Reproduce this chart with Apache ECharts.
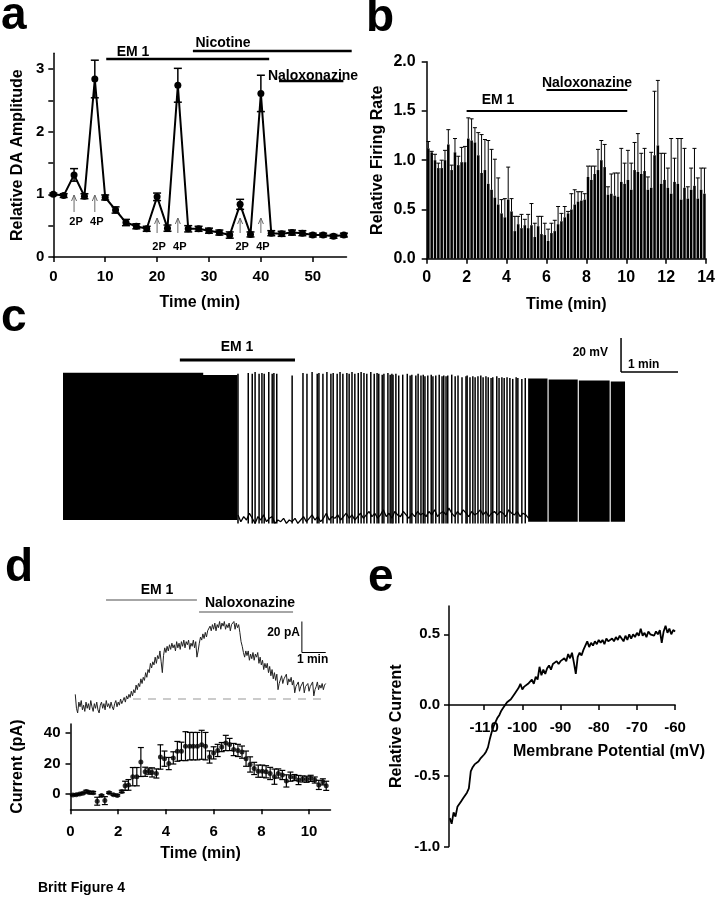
<!DOCTYPE html>
<html><head><meta charset="utf-8">
<script src="https://cdn.jsdelivr.net/npm/echarts@6/dist/echarts.min.js"></script>
<style>html,body{margin:0;padding:0;background:#fff}#c{width:718px;height:899px}</style>
</head><body><div id="c"></div>
<script>
// ---------------- DATA ----------------
// Panel a
const aTime=[0,2,4,6,8,10,12,14,16,18,20,22,24,26,28,30,32,34,36,38,40,42,44,46,48,50,52,54,56];
const aAmp=[1.00,0.98,1.31,0.97,2.84,0.95,0.75,0.55,0.49,0.45,0.96,0.46,2.74,0.45,0.45,0.42,0.39,0.35,0.84,0.36,2.61,0.38,0.37,0.39,0.38,0.35,0.35,0.33,0.35];
const aErr=[0.02,0.03,0.10,0.04,0.30,0.04,0.05,0.05,0.04,0.04,0.06,0.05,0.27,0.05,0.04,0.04,0.04,0.05,0.08,0.04,0.29,0.04,0.04,0.04,0.04,0.03,0.03,0.03,0.03];
const aStimTime=[4,8,20,24,36,40];
const aStimLabel=['2P','4P','2P','4P','2P','4P'];
const aDrugName=['EM 1','Nicotine','Naloxonazine'];
const aDrugStart=[10.2,26.9,43.5];
const aDrugEnd=[41.6,57.5,55.9];
const aXTicks=[0,10,20,30,40,50];
const aYMinor=[0,0.5,1,1.5,2,2.5,3];
const aYTicks=[0,1,2,3];

// Panel b (10-s bins)
const bBinWidth=1/6;
const bRate=[1.12,1.08,1.00,0.92,0.92,1.00,1.16,0.90,1.08,0.95,
 0.98,0.98,1.22,1.20,1.18,1.05,0.87,0.90,0.76,0.70,
 0.62,0.55,0.46,0.42,0.60,0.48,0.28,0.35,0.31,0.34,
 0.31,0.34,0.22,0.33,0.25,0.24,0.18,0.26,0.28,0.35,
 0.38,0.42,0.46,0.50,0.55,0.58,0.59,0.60,0.83,0.80,
 0.86,0.90,1.00,0.93,0.65,0.66,0.64,0.63,0.78,0.76,
 0.80,0.70,0.90,0.88,0.86,0.89,0.70,0.72,1.05,1.15,
 0.76,0.80,0.72,0.66,0.78,0.76,0.60,0.72,0.61,0.70,
 0.74,0.61,0.70,0.66];
const bErrTop=[1.19,1.09,1.06,0.97,1.00,1.10,1.31,0.95,1.22,1.04,
 1.13,1.14,1.43,1.42,1.33,1.28,1.26,1.21,1.20,1.11,
 1.01,0.82,0.60,0.61,0.93,0.61,0.43,0.43,0.45,0.40,
 0.45,0.56,0.36,0.43,0.43,0.36,0.30,0.36,0.39,0.53,
 0.46,0.53,0.48,0.66,0.70,0.68,0.68,0.66,0.94,0.94,
 0.94,1.11,1.20,1.16,0.73,0.86,0.87,0.87,1.12,0.97,
 1.10,0.97,1.18,1.27,1.07,1.12,0.83,1.08,1.70,1.81,
 1.07,1.07,0.92,1.22,1.02,1.22,1.22,1.12,0.73,0.92,
 1.12,0.82,0.92,0.92];
const bDrugName=['EM 1','Naloxonazine'];
const bDrugStart=[2,6];
const bDrugEnd=[10.05,10.05];
const bXTicks=[0,2,4,6,8,10,12,14];
const bYTicks=[0,0.5,1,1.5,2];

// Panel c (membrane potential, mV vs min)
const cBlockStart=[0,2.44,8.16,8.52,9.05,9.61];
const cBlockEnd=[2.46,3.06,8.50,9.03,9.59,9.86];
const cBlockTop=[21.6,20.3,18.2,17.6,17.0,16.4];
const cBlockBottom=[-65,-65,-66,-66,-66,-66];
const cSpikeTime=[3.07,3.25,3.32,3.37,3.44,3.49,3.53,3.61,3.67,3.70,
 3.75,4.02,4.21,4.28,4.37,4.46,4.49,4.56,4.63,4.70,
 4.74,4.81,4.86,4.91,4.98,5.02,5.07,5.12,5.18,5.23,
 5.28,5.33,5.40,5.46,5.51,5.54,5.60,5.63,5.70,5.74,
 5.77,5.79,5.84,5.89,5.96,6.04,6.09,6.12,6.19,6.23,
 6.28,6.32,6.35,6.40,6.46,6.49,6.54,6.60,6.65,6.68,
 6.72,6.75,6.82,6.88,6.93,7.00,7.07,7.09,7.14,7.19,
 7.23,7.28,7.33,7.37,7.42,7.46,7.51,7.54,7.61,7.65,
 7.70,7.74,7.79,7.84,7.89,7.95,7.98,8.05,8.11];
const cSpikePeak=[21,21.5,21,22,21,21.5,21,22,21,21.5,
 21,20,21.5,21,22,21,21.5,21,22,21,
 21.5,21,22,21,21.5,21,22,21,21.5,22,
 21.5,21,22,21,21.5,21,20.5,21,21.5,20.5,
 21,20.5,21,20,20.5,21,20,20.5,20,21,
 20,20.5,19.5,20,20.5,19.5,20,20.5,19.5,20,
 19.5,20,20.5,19.5,20,19,19.5,20,19,19.5,
 19,19.5,20,19,19.5,19,18.5,19,19.5,18.5,
 19,18.5,19,18.5,18,19,18.5,18,18.5];
const cSpikeTrough=-67;
const cBaseStart=3.07, cBaseStep=0.05;
const cBase=[-62,-66,-63,-65,-61,-64,-67,-63,-65,-62,-66,-64,-63,-67,-65,-66,-64,-67,-65,
 -66,-64,-67,-65,-63,-66,-64,-62,-65,-63,-66,-64,-61,-65,-63,-64,-62,-65,-63,-61,-64,-62,-65,-63,
 -61,-64,-62,-60,-63,-61,-64,-62,-59,-63,-61,-64,-60,-62,-63,-60,-62,-64,-61,-63,-60,-62,-61,-63,
 -60,-62,-59,-63,-61,-60,-62,-58,-61,-63,-60,-62,-59,-61,-63,-60,-62,-61,-59,-62,-60,-63,-61,-60,
 -62,-60,-61,-63,-59,-61,-62,-60,-63,-61,-62,-64];
const cDrugName=['EM 1'];
const cDrugStart=[2.05];
const cDrugEnd=[4.07];
const cScaleMV=20, cScaleMin=1;

// Panel d
const dTraceStart=0.2, dTraceStep=0.05;
const dTrace=[3,-6,-9,-2,-5,-1,-7,-4,-8,-2,
 -6,-3,-7,-1,-5,-8,-3,-6,-2,-7,
 -9,-4,-2,-6,-3,-7,-1,-5,-3,-6,
 -2,-5,-7,-3,-1,-5,-2,-4,0,-3,
 -1,1,-2,2,0,3,1,5,2,6,
 4,9,6,10,8,13,10,14,12,17,
 14,19,17,23,20,24,22,27,23,28,
 26,31,24,17,28,33,30,34,31,35,
 32,36,33,35,31,37,33,36,32,37,
 34,38,33,37,35,38,32,36,34,38,
 33,37,27,31,36,40,38,42,39,43,
 40,44,43,47,44,48,45,49,44,48,
 46,50,45,49,47,50,45,48,46,49,
 44,48,47,50,45,49,46,48,43,37,
 34,30,27,31,28,31,25,29,26,30,
 25,29,27,30,23,27,22,25,19,23,
 20,23,17,21,15,19,13,17,12,16,
 6,10,11,15,10,13,12,16,9,13,
 11,14,9,12,4,8,7,11,5,8,
 8,11,4,8,7,10,5,8,8,11,
 2,6,8,11,6,9,7,10,6,9,
 10];
const dBaselineSpan=[2.62,10.7];
const dTime=[0.10,0.24,0.38,0.52,0.66,0.80,0.95,1.12,1.30,1.44,1.62,1.80,1.96,2.15,2.29,2.43,2.61,2.78,2.95,3.13,3.28,3.42,3.60,3.77,3.94,4.12,4.31,4.48,4.65,4.82,5.00,5.15,5.32,5.50,5.66,5.83,6.00,6.17,6.34,6.51,6.67,6.84,7.02,7.19,7.36,7.53,7.70,7.87,8.04,8.20,8.37,8.55,8.71,8.88,9.05,9.22,9.39,9.56,9.73,9.90,10.07,10.24,10.41,10.58,10.72];
const dCur=[-0.6,-0.4,0,0.6,1.7,1.0,0.9,-4.7,-1.0,-4.3,0.9,-0.4,-0.9,1.7,5.4,6.0,11.4,11.4,21.0,14.6,15.0,14.2,13.5,24.3,23.2,20.0,23.7,28.0,28.0,31.4,31.4,31.4,31.4,32.3,31.4,24.3,27.0,28.6,30.8,33.5,32.5,29.2,28.6,27.5,23.2,19.4,16.8,15.0,15.0,14.6,13.5,11.4,13.5,12.5,8.6,11.4,10.8,9.2,9.9,9.7,10.3,9.2,6.0,8.0,5.4];
const dErr=[0.5,0.5,0.5,0.5,0.8,0.8,0.8,2.6,0.5,2.6,0.5,0.5,0.5,0.8,3.0,3.5,6.0,6.0,9.5,3.0,2.0,3.0,3.0,8.0,5.0,4.0,4.0,6.5,6.0,9.5,9.0,9.0,9.0,9.5,9.0,4.0,4.0,4.0,3.0,5.0,4.0,4.0,4.0,4.0,5.0,5.0,4.0,4.0,4.0,4.0,4.0,5.0,3.0,3.0,4.0,3.0,2.0,3.0,2.0,2.0,2.0,2.0,3.0,2.0,3.0];
const dDrugName=['EM 1','Naloxonazine'];
const dDrugStart=[1.49,5.39];
const dDrugEnd=[5.3,9.33];
const dScalePA=20, dScaleMin=1;
const dXTicks=[0,2,4,6,8,10];
const dYTicks=[0,20,40];

// Panel e
const eVStart=-119, eVStep=0.5;
const eCur=[-0.80,-0.84,-0.76,-0.79,-0.72,-0.73,-0.68,-0.66,-0.64,-0.62,
 -0.59,-0.47,-0.44,-0.42,-0.41,-0.40,-0.38,-0.37,-0.35,-0.33,
 -0.30,-0.24,-0.19,-0.15,-0.12,-0.09,-0.07,-0.04,-0.02,0.00,
 0.02,0.01,0.04,0.05,0.08,0.09,0.12,0.15,0.11,0.13,
 0.12,0.15,0.14,0.18,0.15,0.20,0.18,0.27,0.21,0.25,
 0.22,0.26,0.28,0.25,0.29,0.28,0.31,0.29,0.31,0.30,
 0.33,0.31,0.36,0.33,0.37,0.30,0.22,0.34,0.37,0.35,
 0.39,0.38,0.45,0.41,0.44,0.42,0.45,0.43,0.46,0.44,
 0.46,0.43,0.47,0.45,0.44,0.47,0.45,0.48,0.46,0.49,
 0.47,0.45,0.49,0.46,0.50,0.47,0.50,0.48,0.51,0.49,
 0.54,0.49,0.51,0.48,0.52,0.50,0.51,0.49,0.52,0.50,
 0.53,0.44,0.52,0.56,0.51,0.54,0.50,0.53,0.52];
const eXTicks=[-110,-100,-90,-80,-70,-60];
const eYTicks=[-1,-0.5,0,0.5];

// ---------------- LAYOUT / STYLE ----------------
const F='"Liberation Sans", Arial, Helvetica, sans-serif';
const L={
  aDrugBarY:[59,51,81], aDrugTextX:[133,223,313], aDrugTextY:[52,43,76],
  aArrowTip:[195,195,218,218,218,218], aArrowBase:[212,212,233,233,233,233], aArrowLabel:[222,222,247,247,247,247],
  bDrugBarY:[111,90], bDrugTextX:[498,587], bDrugTextY:[100,83],
  cDrugBarY:[360], cDrugTextX:[237], cDrugTextY:[347],
  dDrugBarY:[600,612], dDrugTextX:[157,250], dDrugTextY:[590,603],
  cScaleAnchor:[9.79,22], dScaleAnchor:[9.7,30]
};

function merge(a,b){const o=Object.assign({},a);for(const k in b){const v=b[k];if(v&&typeof v==='object'&&!Array.isArray(v)&&a[k]&&typeof a[k]==='object'&&!Array.isArray(a[k]))o[k]=merge(a[k],v);else o[k]=v;}return o;}
const AX={type:'value',
  axisLine:{show:true,onZero:false,lineStyle:{color:'#000',width:1.5}},
  axisTick:{show:true,inside:false,length:5,lineStyle:{color:'#000',width:1.5}},
  axisLabel:{color:'#000',fontFamily:F,fontWeight:'bold',fontSize:15},
  splitLine:{show:false},
  nameLocation:'middle',
  nameTextStyle:{color:'#000',fontFamily:F,fontWeight:'bold',fontSize:16}};

function drugSeries(idx,names,starts,ends,barY,textX,textY,color,lw,fs){
  return {type:'custom',xAxisIndex:idx,yAxisIndex:idx,clip:false,silent:true,z:5,
    data:names.map((n,i)=>[starts[i],ends[i],i]),
    renderItem:(p,api)=>{const i=api.value(2);
      const x0=api.coord([api.value(0),0])[0],x1=api.coord([api.value(1),0])[0];
      return {type:'group',children:[
        {type:'line',shape:{x1:x0,y1:barY[i],x2:x1,y2:barY[i]},style:{stroke:color,lineWidth:lw}},
        {type:'text',style:{text:names[i],x:textX[i],y:textY[i],align:'center',verticalAlign:'middle',font:'bold '+fs+'px '+F,fill:'#000'}}]};}};
}
function errSeries(idx,xs,ys,es,cap,lw){
  return {type:'custom',xAxisIndex:idx,yAxisIndex:idx,clip:false,silent:true,z:3,
    data:xs.map((x,i)=>[x,ys[i],es[i]]),
    renderItem:(p,api)=>{const x=api.value(0),y=api.value(1),e=api.value(2);
      const lo=api.coord([x,y-e]),hi=api.coord([x,y+e]);const st={stroke:'#000',lineWidth:lw};
      return {type:'group',children:[
        {type:'line',shape:{x1:lo[0],y1:lo[1],x2:hi[0],y2:hi[1]},style:st},
        {type:'line',shape:{x1:hi[0]-cap/2,y1:hi[1],x2:hi[0]+cap/2,y2:hi[1]},style:st},
        {type:'line',shape:{x1:lo[0]-cap/2,y1:lo[1],x2:lo[0]+cap/2,y2:lo[1]},style:st}]};}};
}
function scaleSeries(idx,anchor,dv,dt,lw,labV,labT){
  return {type:'custom',xAxisIndex:idx,yAxisIndex:idx,clip:false,silent:true,z:6,
    data:[[anchor[0],anchor[1],dv,dt]],
    renderItem:(p,api)=>{const t=api.value(0),v=api.value(1);
      const o=api.coord([t,v]),top=api.coord([t,v+api.value(2)]),r=api.coord([t+api.value(3),v]);
      const st={stroke:'#000',lineWidth:lw};
      return {type:'group',children:[
        {type:'line',shape:{x1:o[0],y1:o[1],x2:top[0],y2:top[1]},style:st},
        {type:'line',shape:{x1:o[0],y1:o[1],x2:r[0],y2:r[1]},style:st},
        {type:'text',style:{text:labV.text,font:'bold 12px '+F,fill:'#000',verticalAlign:'middle',x:o[0]+labV.dx,y:o[1]+labV.dy,align:labV.align}},
        {type:'text',style:{text:labT.text,font:'bold 12px '+F,fill:'#000',verticalAlign:'middle',x:o[0]+labT.dx,y:o[1]+labT.dy,align:labT.align}}]};}};
}

const option={
  animation:false,
  backgroundColor:'#fff',
  grid:[
    {left:53.3,top:53.3,width:293.2,height:203.7},
    {left:426.7,top:61.7,width:280,height:197},
    {left:63,top:333,width:627,height:195.5},
    {left:70.5,top:621.5,width:260,height:96.1},
    {left:70.5,top:723.9,width:260,height:85.4},
    {left:449,top:606,width:226.1,height:240.4}],
  xAxis:[
    merge(AX,{gridIndex:0,min:0,max:56.5,axisTick:{customValues:aXTicks},axisLabel:{customValues:aXTicks,margin:12},name:'Time (min)',nameGap:38}),
    merge(AX,{gridIndex:1,min:0,max:14,axisTick:{customValues:bXTicks},axisLabel:{customValues:bXTicks,margin:11,fontSize:16},name:'Time (min)',nameGap:38}),
    {type:'value',gridIndex:2,min:0,max:11,show:false},
    {type:'value',gridIndex:3,min:0,max:10.9,show:false},
    merge(AX,{gridIndex:4,min:0,max:10.9,axisTick:{customValues:dXTicks},axisLabel:{customValues:dXTicks,margin:15},name:'Time (min)',nameGap:36}),
    merge(AX,{gridIndex:5,min:-119.2,max:-60,offset:-141.4,axisTick:{customValues:eXTicks},axisLabel:{customValues:eXTicks,margin:15},name:'Membrane Potential (mV)',nameGap:39,nameTextStyle:{padding:[0,0,0,94]}})],
  yAxis:[
    merge(AX,{gridIndex:0,min:0,max:3.25,axisTick:{customValues:aYMinor},axisLabel:{customValues:aYTicks,margin:9},name:'Relative DA Amplitude',nameGap:28}),
    merge(AX,{gridIndex:1,min:0,max:2,axisTick:{customValues:bYTicks},axisLabel:{customValues:bYTicks,margin:11,fontSize:16,formatter:v=>v.toFixed(1)},name:'Relative Firing Rate',nameGap:41}),
    {type:'value',gridIndex:2,min:-70,max:45,show:false},
    {type:'value',gridIndex:3,min:-12,max:50,show:false},
    merge(AX,{gridIndex:4,min:-10,max:46,axisTick:{customValues:dYTicks},axisLabel:{customValues:dYTicks,margin:10},name:'Current (pA)',nameGap:45}),
    merge(AX,{gridIndex:5,min:-1,max:0.7,axisTick:{customValues:eYTicks},axisLabel:{customValues:eYTicks,margin:9,formatter:v=>v.toFixed(1)},name:'Relative Current',nameGap:44})],
  graphic:[
    {type:'text',x:1,y:16.5,style:{text:'a',font:'bold 46px '+F,fill:'#000',verticalAlign:'middle'}},
    {type:'text',x:366,y:18.5,style:{text:'b',font:'bold 46px '+F,fill:'#000',verticalAlign:'middle'}},
    {type:'text',x:1,y:318.5,style:{text:'c',font:'bold 46px '+F,fill:'#000',verticalAlign:'middle'}},
    {type:'text',x:5,y:568.5,style:{text:'d',font:'bold 46px '+F,fill:'#000',verticalAlign:'middle'}},
    {type:'text',x:368,y:578.5,style:{text:'e',font:'bold 46px '+F,fill:'#000',verticalAlign:'middle'}},
    {type:'text',x:38,y:888,style:{text:'Britt Figure 4',font:'bold 14px '+F,fill:'#000',verticalAlign:'middle'}}],
  series:[
    // a
    errSeries(0,aTime,aAmp,aErr,8,1.5),
    {type:'line',xAxisIndex:0,yAxisIndex:0,data:aTime.map((t,i)=>[t,aAmp[i]]),symbol:'circle',symbolSize:7,
     lineStyle:{color:'#000',width:2},itemStyle:{color:'#000'},z:4,silent:true},
    drugSeries(0,aDrugName,aDrugStart,aDrugEnd,L.aDrugBarY,L.aDrugTextX,L.aDrugTextY,'#000',2.5,14),
    {type:'custom',xAxisIndex:0,yAxisIndex:0,clip:false,silent:true,z:5,
     data:aStimTime.map((t,i)=>[t,i]),
     renderItem:(p,api)=>{const i=api.value(1);const x=api.coord([api.value(0),0])[0];
       const tip=L.aArrowTip[i],base=L.aArrowBase[i];const st={stroke:'#666',lineWidth:1};
       return {type:'group',children:[
         {type:'line',shape:{x1:x,y1:base,x2:x,y2:tip},style:st},
         {type:'polyline',shape:{points:[[x-2.5,tip+6],[x,tip],[x+2.5,tip+6]]},style:Object.assign({fill:null},st)},
         {type:'text',style:{text:aStimLabel[i],x:x+2,y:L.aArrowLabel[i],align:'center',verticalAlign:'middle',font:'bold 11px '+F,fill:'#000'}}]};}},
    // b
    {type:'custom',xAxisIndex:1,yAxisIndex:1,silent:true,z:3,
     data:bRate.map((v,i)=>[i*bBinWidth,(i+1)*bBinWidth,v,bErrTop[i]]),
     renderItem:(p,api)=>{const p0=api.coord([api.value(0),0]),p1=api.coord([api.value(1),api.value(2)]),pe=api.coord([0,api.value(3)]);
       const gap=0.8,x=p0[0]+gap/2,bw=p1[0]-p0[0]-gap,cx=x+bw/2;const st={stroke:'#000',lineWidth:1};
       return {type:'group',children:[
         {type:'rect',shape:{x:x,y:p1[1],width:bw,height:p0[1]-p1[1]},style:{fill:'#000'}},
         {type:'line',shape:{x1:cx,y1:p1[1],x2:cx,y2:pe[1]},style:st},
         {type:'line',shape:{x1:cx-2,y1:pe[1],x2:cx+2,y2:pe[1]},style:st}]};}},
    drugSeries(1,bDrugName,bDrugStart,bDrugEnd,L.bDrugBarY,L.bDrugTextX,L.bDrugTextY,'#000',1.8,14),
    // c
    {type:'custom',xAxisIndex:2,yAxisIndex:2,silent:true,clip:false,z:3,
     data:cBlockStart.map((s,i)=>[s,cBlockEnd[i],cBlockTop[i],cBlockBottom[i]]),
     renderItem:(p,api)=>{const a=api.coord([api.value(0),api.value(2)]),b=api.coord([api.value(1),api.value(3)]);
       return {type:'rect',shape:{x:a[0],y:a[1],width:b[0]-a[0],height:b[1]-a[1]},style:{fill:'#000'}};}},
    {type:'line',xAxisIndex:2,yAxisIndex:2,data:cBase.map((v,i)=>[cBaseStart+i*cBaseStep,v]),showSymbol:false,
     lineStyle:{color:'#000',width:1.3},silent:true,z:3},
    {type:'custom',xAxisIndex:2,yAxisIndex:2,silent:true,clip:false,z:4,
     data:cSpikeTime.map((t,i)=>[t,cSpikePeak[i]]),
     renderItem:(p,api)=>{const a=api.coord([api.value(0),cSpikeTrough]),b=api.coord([api.value(0),api.value(1)]);
       return {type:'line',shape:{x1:a[0],y1:a[1],x2:b[0],y2:b[1]},style:{stroke:'#000',lineWidth:1.5}};}},
    drugSeries(2,cDrugName,cDrugStart,cDrugEnd,L.cDrugBarY,L.cDrugTextX,L.cDrugTextY,'#000',3,14),
    scaleSeries(2,L.cScaleAnchor,cScaleMV,cScaleMin,1.5,{text:'20 mV',dx:-13,dy:-19,align:'right'},{text:'1 min',dx:7,dy:-7,align:'left'}),
    // d upper
    {type:'line',xAxisIndex:3,yAxisIndex:3,data:dTrace.map((v,i)=>[dTraceStart+i*dTraceStep,v]),showSymbol:false,
     lineStyle:{color:'#222',width:1},silent:true,z:3},
    {type:'line',xAxisIndex:3,yAxisIndex:3,data:dBaselineSpan.map(t=>[t,0]),showSymbol:false,
     lineStyle:{color:'#bbb',width:1.5,type:[8,7]},silent:true,z:2},
    drugSeries(3,dDrugName,dDrugStart,dDrugEnd,L.dDrugBarY,L.dDrugTextX,L.dDrugTextY,'#888',1.5,14),
    scaleSeries(3,L.dScaleAnchor,dScalePA,dScaleMin,1,{text:'20 pA',dx:-2,dy:-20,align:'right'},{text:'1 min',dx:-5,dy:7,align:'left'}),
    // d lower
    errSeries(4,dTime,dCur,dErr,6,1.2),
    {type:'scatter',xAxisIndex:4,yAxisIndex:4,data:dTime.map((t,i)=>[t,dCur[i]]),symbol:'circle',symbolSize:5,
     itemStyle:{color:'#000'},silent:true,z:4},
    // e
    {type:'line',xAxisIndex:5,yAxisIndex:5,data:eCur.map((v,i)=>[eVStart+i*eVStep,v]),showSymbol:false,
     lineStyle:{color:'#000',width:1.8},silent:true,z:3}
  ]
};
const chart=echarts.init(document.getElementById('c'));
chart.setOption(option);
</script></body></html>
